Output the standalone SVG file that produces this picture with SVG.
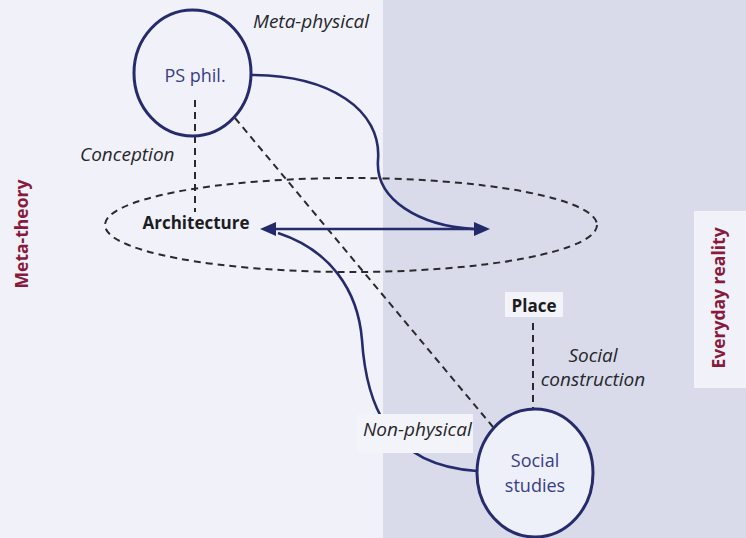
<svg xmlns="http://www.w3.org/2000/svg" width="746" height="538" viewBox="0 0 746 538">
  <style>
    .node { fill: none; stroke: #262b6b; stroke-width: 3; }
    .node-fill { fill: #eef0f9; stroke: #262b6b; stroke-width: 3; }
    .link { fill: none; stroke: #262b6b; stroke-width: 2.6; }
    .dash { fill: none; stroke: #2a2a2e; stroke-width: 2; stroke-dasharray: 7 5; }
    .node-label { font-family: "Open Sans", "Liberation Sans", sans-serif; font-size: 18px; fill: #383d85; text-anchor: middle; }
    .term { font-family: "Open Sans", "Liberation Sans", sans-serif; font-size: 17px; font-weight: bold; fill: #1c1c22; text-anchor: middle; }
    .note { font-family: "Open Sans", "Liberation Sans", sans-serif; font-size: 19px; font-style: italic; fill: #26262b; }
    .axis { font-family: "Open Sans", "Liberation Sans", sans-serif; font-size: 17.5px; font-weight: bold; fill: #8a1a3c; text-anchor: middle; }
  </style>
  <defs>
    <marker id="arrow" viewBox="0 0 16 14" refX="12" refY="7" markerWidth="16" markerHeight="14" markerUnits="userSpaceOnUse" orient="auto-start-reverse">
      <path d="M0,0 L16,7 L0,14 Z" fill="#232a68"/>
    </marker>
  </defs>

  <!-- two backgrounds: meta-theory (left) and everyday reality (right) -->
  <rect x="0" y="0" width="746" height="538" fill="#f1f2f9"/>
  <rect x="383" y="0" width="363" height="538" fill="#d9dbea"/>

  <!-- side headings -->
  <text class="axis" transform="translate(28,234) rotate(-90)">Meta-theory</text>
  <rect x="694" y="211" width="52" height="177" fill="#f1f2f9"/>
  <text class="axis" transform="translate(725,298) rotate(-90)">Everyday reality</text>

  <!-- architecture field -->
  <g id="architecture">
    <ellipse cx="351" cy="225" rx="246" ry="47" fill="#eff0f9" class="dash"/>
    <text class="term" x="196" y="229" font-size="18">Architecture</text>
  </g>

  <!-- connectors -->
  <g id="connectors">
    <line class="dash" x1="195" y1="100" x2="195" y2="212"/>
    <line class="dash" x1="235" y1="118" x2="493" y2="427"/>
    <line class="dash" x1="533" y1="323" x2="533" y2="446"/>
    <path class="link" d="M251,75 C330,75 382,110 378,160 C375,200 420,226 474,229"/>
    <path class="link" d="M278,233 C330,250 358,290 362,340 C366,400 385,465 477,471"/>
    <line class="link" stroke="#232a68" stroke-width="3" x1="264" y1="229" x2="486" y2="229" marker-start="url(#arrow)" marker-end="url(#arrow)"/>
  </g>

  <g id="ps-phil">
    <ellipse class="node" cx="192.5" cy="73" rx="58.5" ry="63"/>
    <text class="node-label" x="195" y="82">PS phil.</text>
  </g>

  <g id="social-studies">
    <ellipse class="node-fill" cx="535" cy="473" rx="58" ry="64"/>
    <text class="node-label" x="535" y="467">Social</text>
    <text class="node-label" x="535" y="492">studies</text>
  </g>

  <g id="place">
    <rect x="505" y="292" width="58" height="25" fill="#f3f4fa"/>
    <text class="term" x="534" y="312">Place</text>
  </g>

  <!-- connector annotations -->
  <text class="note" x="253" y="28">Meta-physical</text>
  <text class="note" x="80" y="161">Conception</text>
  <text class="note" x="593" y="362" text-anchor="middle">Social</text>
  <text class="note" x="593" y="386" text-anchor="middle">construction</text>
  <rect x="357" y="414" width="116" height="39" fill="#f3f4fa"/>
  <text class="note" x="363" y="436">Non-physical</text>
</svg>
